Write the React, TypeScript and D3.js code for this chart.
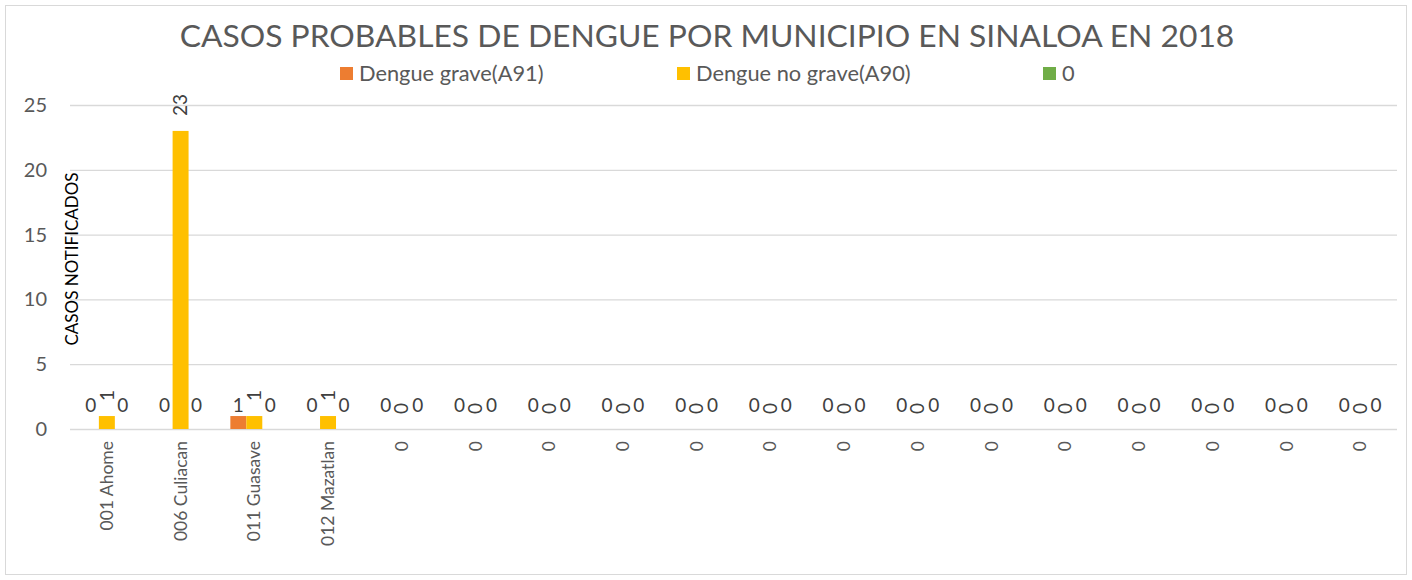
import React, { useEffect, useRef } from "react";
import * as d3 from "d3";

const categories = [
  "001 Ahome", "006 Culiacan", "011 Guasave", "012 Mazatlan",
  "0", "0", "0", "0", "0", "0", "0", "0", "0", "0", "0", "0", "0", "0",
];
const graveA91 = [0, 0, 1, 0, 0, 0, 0, 0, 0, 0, 0, 0, 0, 0, 0, 0, 0, 0];
const noGraveA90 = [1, 23, 1, 1, 0, 0, 0, 0, 0, 0, 0, 0, 0, 0, 0, 0, 0, 0];
const serieCero = [0, 0, 0, 0, 0, 0, 0, 0, 0, 0, 0, 0, 0, 0, 0, 0, 0, 0];
const seriesNames = ["Dengue grave(A91)", "Dengue no grave(A90)", "0"];
const yTicks = [0, 5, 10, 15, 20, 25];

const W = 1412;
const H = 580;
const FONT = "Lato, 'Open Sans', sans-serif";
const GRAY = "#595959";
const colors = ["#ed7d31", "#ffc000", "#70ad47"];

export default function App() {
  const ref = useRef<SVGSVGElement>(null);

  useEffect(() => {
    const svg = d3.select(ref.current).attr("width", W).attr("height", H);
    svg.selectAll("*").remove();
    const margin = { top: 105, right: 15, bottom: 151, left: 70 };

    svg
      .append("rect")
      .attr("x", 5.5)
      .attr("y", 5.5)
      .attr("width", W - 11)
      .attr("height", H - 11)
      .attr("fill", "#fff")
      .attr("stroke", "#d9d9d9");

    const series = [graveA91, noGraveA90, serieCero];
    const idx = categories.map((_, i) => i);

    const x = d3
      .scaleBand<number>()
      .domain(idx)
      .range([margin.left, W - margin.right])
      .paddingInner(0.35)
      .paddingOuter(0.175);
    const xs = d3.scaleBand<number>().domain([0, 1, 2]).range([0, x.bandwidth()]);
    const y = d3.scaleLinear().domain([0, 25]).range([H - margin.bottom, margin.top]);

    // grid
    svg
      .append("g")
      .selectAll("line")
      .data(yTicks)
      .join("line")
      .attr("x1", margin.left)
      .attr("x2", W - margin.right)
      .attr("y1", (d) => y(d) + 0.5)
      .attr("y2", (d) => y(d) + 0.5)
      .attr("stroke", "#d9d9d9")
      .attr("stroke-width", 1.3);

    // y tick labels
    svg
      .append("g")
      .selectAll("text")
      .data(yTicks)
      .join("text")
      .attr("x", 47)
      .attr("y", (d) => y(d))
      .attr("dy", "0.35em")
      .attr("text-anchor", "end")
      .attr("font-family", FONT)
      .attr("font-size", 20)
      .attr("fill", GRAY)
      .text((d) => d);

    // bars
    series.forEach((vals, s) => {
      svg
        .append("g")
        .selectAll("rect")
        .data(vals)
        .join("rect")
        .attr("x", (_, i) => x(i)! + xs(s)!)
        .attr("y", (d) => y(d))
        .attr("width", xs.bandwidth())
        .attr("height", (d) => y(0) - y(d))
        .attr("fill", colors[s]);
    });

    // data labels
    series.forEach((vals, s) => {
      const g = svg.append("g");
      if (s === 1) {
        g.selectAll("text")
          .data(vals)
          .join("text")
          .attr("transform", (d, i) => `translate(${x(i)! + xs(s)! + xs.bandwidth() / 2},${y(d) - 15}) rotate(-90)`)
          .attr("dy", "0.35em")
          .attr("text-anchor", "start")
          .attr("font-family", FONT)
          .attr("font-size", 19)
          .attr("fill", "#404040")
          .text((d) => d);
      } else {
        g.selectAll("text")
          .data(vals)
          .join("text")
          .attr("x", (_, i) => x(i)! + xs(s)! + xs.bandwidth() / 2)
          .attr("y", (d) => Math.min(y(d) - 11, y(0) - 24))
          .attr("dy", "0.35em")
          .attr("text-anchor", "middle")
          .attr("font-family", FONT)
          .attr("font-size", 19)
          .attr("fill", "#404040")
          .text((d) => d);
      }
    });

    // category labels
    svg
      .append("g")
      .selectAll("text")
      .data(categories)
      .join("text")
      .attr("transform", (_, i) => `translate(${x(i)! + x.bandwidth() / 2},${y(0) + 12}) rotate(-90)`)
      .attr("dy", "0.35em")
      .attr("text-anchor", "end")
      .attr("font-family", FONT)
      .attr("font-size", 17.5)
      .attr("fill", GRAY)
      .text((d) => d);

    // y axis title
    svg
      .append("text")
      .attr("transform", `translate(72, ${259}) rotate(-90)`)
      .attr("dy", "0.35em")
      .attr("text-anchor", "middle")
      .attr("font-family", FONT)
      .attr("font-size", 17)
      .attr("fill", "#000")
      .text("CASOS NOTIFICADOS");

    // title
    svg
      .append("text")
      .attr("x", 707)
      .attr("y", 47)
      .attr("text-anchor", "middle")
      .attr("font-family", FONT)
      .attr("font-size", 31.8)
      .attr("fill", GRAY)
      .text("CASOS PROBABLES DE DENGUE POR MUNICIPIO EN SINALOA EN 2018");

    // legend
    const legendX = [340, 677, 1043];
    const lg = svg
      .append("g")
      .selectAll("g")
      .data(seriesNames)
      .join("g")
      .attr("transform", (_, i) => `translate(${legendX[i]},67)`);
    lg.append("rect")
      .attr("width", 13)
      .attr("height", 13)
      .attr("fill", (_, i) => colors[i]);
    lg.append("text")
      .attr("x", 19)
      .attr("y", 14)
      .attr("font-family", FONT)
      .attr("font-size", 21.8)
      .attr("fill", GRAY)
      .text((d) => d);
  }, []);

  return (
    <svg
      ref={ref}
      style={{ position: "absolute", left: 0, top: 0, display: "block" }}
    />
  );
}
